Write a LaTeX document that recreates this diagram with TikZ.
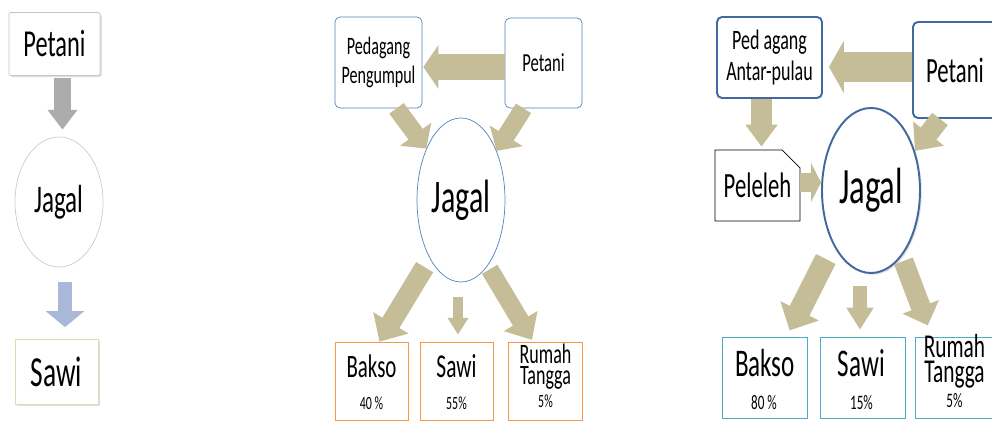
\documentclass[tikz,border=0pt]{standalone}
\usepackage{fontspec}
\setmainfont{Carlito}[FakeStretch=0.64]
\usetikzlibrary{arrows.meta,shapes.geometric,shapes.misc,shadows}
\definecolor{tanarrow}{HTML}{C4BD97}
\definecolor{boxblue}{HTML}{4F81BD}
\definecolor{deepblue}{HTML}{41699F}
\definecolor{boxorange}{HTML}{F79646}
\definecolor{boxcyan}{HTML}{4BACC6}
\definecolor{boxgreen}{HTML}{D3E0B4}
\definecolor{steelarrow}{HTML}{A9B8D9}
\newlength\px
\setlength\px{0.02cm}
\tikzset{
    fat/.style n args={3}{draw=tanarrow, line width=#1pt, -{Triangle[width=#2pt,length=#3pt]}},
    box/.style={draw, rectangle, inner sep=0pt},
    soft shadow/.style={fill=white, drop shadow={opacity=0.25, shadow xshift=1pt, shadow yshift=-1pt}},
}
\newcommand{\fs}[2]{\fontsize{#1}{#2}\selectfont}

\begin{document}
\begin{tikzpicture}[x=\px, y=-\px,
    round box/.style={box, rounded corners=5\px, fill=white},
    oval/.style={draw, ellipse, inner sep=0pt},
    lbl/.style={anchor=base, inner sep=0pt}]

\useasboundingbox (0,0) rectangle (992,421);
\clip (0,0) rectangle (992,421);

% first chain
\node[box, draw=gray!45, rounded corners=2\px, soft shadow, minimum width=91\px, minimum height=63\px, font=\fs{21.7pt}{24pt}] (petA) at (54.5,44) {Petani};
\node[oval, draw=gray!40, minimum width=88\px, minimum height=130\px, font=\fs{22.3pt}{24pt}] (jagA) at (59,202) {Jagal};
\node[box, draw=boxgreen, soft shadow, minimum width=83\px, minimum height=65\px, font=\fs{24.4pt}{26pt}] (sawA) at (56.5,372) {Sawi};

\draw[fat={9.6}{16.4}{11.3}, draw=gray!65, shorten <=2\px, shorten >=7\px] ([xshift=8\px]petA.south) -- ([xshift=8\px]petA.south |- jagA.north);
\draw[fat={7.9}{21.5}{9.1}, draw=steelarrow, shorten <=15\px, shorten >=12\px] ([xshift=6\px]jagA.south) -- ([xshift=6\px]jagA.south |- sawA.north);

% second chain
\node[round box, draw=boxblue, minimum width=87\px, minimum height=91\px, align=center, font=\fs{14.3pt}{16pt}] (pedB) at (378.5,62.5) {Pedagang\\Pengumpul};
\node[round box, draw=boxblue, minimum width=77\px, minimum height=90\px, font=\fs{14.8pt}{16pt}] (petB) at (543.5,63) {Petani};
\node[oval, draw=boxblue, minimum width=88\px, minimum height=164\px, font=\fs{26.6pt}{28pt}] (jagB) at (461,200) {Jagal};
\node[box, draw=boxorange, minimum width=73\px, minimum height=78\px] (bakB) at (371.5,381) {};
\node[box, draw=boxorange, minimum width=73\px, minimum height=78\px] (sawB) at (456.5,381) {};
\node[box, draw=boxorange, minimum width=74\px, minimum height=78\px] (rumB) at (545,381) {};

\node[lbl, font=\fs{18.6pt}{20pt}] (bakBt) at (371.5,378) {Bakso};
\node[lbl, font=\fs{10.6pt}{12pt}] (bakBp) at (371.5,410) {40 \%};
\node[lbl, font=\fs{19pt}{20pt}] (sawBt) at (456.5,378) {Sawi};
\node[lbl, font=\fs{10.6pt}{12pt}] (sawBp) at (456.5,410) {55\%};
\node[lbl, align=center, font=\fs{16pt}{12pt}] (rumBt) at (545.5,385) {Rumah\\Tangga};
\node[lbl, font=\fs{10.6pt}{12pt}] (rumBp) at (545.5,408) {5\%};

\draw[fat={15.3}{24.4}{8.5}, shorten >=1\px] ([yshift=-4\px]petB.west) -- ([yshift=-4\px]petB.west -| pedB.east);
\draw[fat={10.2}{21.5}{10.2}] ([xshift=18\px]pedB.south) -- (jagB.124);
\draw[fat={10.2}{21.5}{10.2}] ([xshift=-20\px]petB.south) -- (jagB.54);
\draw[fat={11.3}{22.7}{12.5}, shorten <=10\px] (jagB.242) -- ([xshift=8\px]bakB.north);
\draw[fat={5.7}{11.3}{9.6}, shorten <=15\px, shorten >=7\px] ([xshift=-3\px]jagB.south) -- ([xshift=-3\px]jagB.south |- sawB.north);
\draw[fat={10.2}{21.5}{12.5}, shorten <=4\px, shorten >=2\px] (jagB.292) -- ([xshift=-12\px]rumB.north);

% third chain
\node[round box, draw=deepblue, line width=1.1pt, minimum width=105\px, minimum height=81\px, align=center, font=\fs{16pt}{18pt}] (pedC) at (769.5,57.5) {Ped agang\\Antar-pulau};
\node[round box, draw=deepblue, line width=1.1pt, minimum width=84\px, minimum height=96\px, font=\fs{20.2pt}{22pt}] (petC) at (955,70) {Petani};
\node[draw=black, chamfered rectangle, chamfered rectangle corners=north east, chamfered rectangle xsep=8\px, chamfered rectangle ysep=10\px, inner sep=0pt, minimum width=85\px, minimum height=71\px, font=\fs{20.2pt}{22pt}] (pelC) at (757.5,185.5) {Peleleh};
\node[oval, draw=deepblue, line width=1.1pt, soft shadow, minimum width=98\px, minimum height=165\px, font=\fs{29pt}{30pt}] (jagC) at (871,190.5) {Jagal};
\node[box, draw=boxcyan, minimum width=85\px, minimum height=81\px] (bakC) at (764.5,377.5) {};
\node[box, draw=boxcyan, minimum width=85\px, minimum height=81\px] (sawC) at (862.5,377.5) {};
\node[box, draw=boxcyan, minimum width=80\px, minimum height=81\px] (rumC) at (955,377.5) {};

\node[lbl, font=\fs{22.3pt}{24pt}] (bakCt) at (765,377) {Bakso};
\node[lbl, font=\fs{11.7pt}{12pt}] (bakCp) at (764,410) {80 \%};
\node[lbl, font=\fs{22.3pt}{24pt}] (sawCt) at (861.5,377) {Sawi};
\node[lbl, font=\fs{11.7pt}{12pt}] (sawCp) at (861.5,410) {15\%};
\node[lbl, align=center, font=\fs{19pt}{14.5pt}] (rumCt) at (954.5,383) {Rumah\\Tangga};
\node[lbl, font=\fs{11.7pt}{12pt}] (rumCp) at (954.5,408) {5\%};

\draw[fat={17}{29.5}{8.5}, shorten >=6\px] ([yshift=3\px]petC.west) -- ([yshift=3\px]petC.west -| pedC.east);
\draw[fat={12.5}{17.6}{12.5}, shorten >=3\px] ([xshift=-8\px]pedC.south) -- ([xshift=-8\px]pedC.south |- pelC.north);
\draw[fat={11.3}{21.5}{12.5}] ([xshift=-15\px]petC.south) -- (jagC.42);
\draw[fat={10.8}{22.1}{5.7}] ([yshift=3\px]pelC.east) -- ([yshift=3\px]pelC.east -| jagC.west);
\draw[fat={12.5}{23.8}{12.5}, shorten <=16\px, shorten >=7\px] (jagC.235) -- ([xshift=22\px]bakC.north);
\draw[fat={8.5}{14.7}{12.5}, shorten <=12\px, shorten >=7\px] ([xshift=-11\px]jagC.south) -- ([xshift=-11\px]jagC.south |- sawC.north);
\draw[fat={11.3}{21.5}{11.3}, shorten <=5\px, shorten >=12\px] (jagC.295) -- ([xshift=-23\px]rumC.north);
\end{tikzpicture}
\end{document}
